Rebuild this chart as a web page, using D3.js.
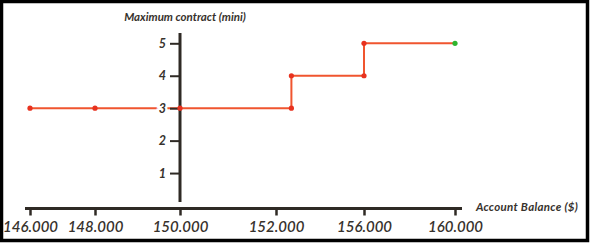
<!DOCTYPE html>
<html>
<head>
<meta charset="utf-8">
<script src="https://cdn.jsdelivr.net/npm/d3@7"></script>
<style>
  html, body { margin: 0; padding: 0; background: #fff; }
  svg { display: block; }
  text { font-family: Lato, "Open Sans", sans-serif; font-style: italic; fill: #37322d; }
</style>
</head>
<body>
<svg id="chart" width="590" height="243"></svg>
<script>
// account balance ($) and max contracts at each breakpoint
const balances = [146000, 148000, 150000, 152700, 156000, 160000];
const contracts = [3, 3, 3, 4, 5, 5];
const xTicks = [146000, 148000, 150000, 152000, 156000, 160000];
const yTicks = [1, 2, 3, 4, 5];

const svg = d3.select('#chart');
const ink = '#2f2a25';

// the x axis in the original is not evenly spaced, so map it piece by piece
const x = d3.scaleLinear()
    .domain(xTicks)
    .range([30, 95, 180, 276, 364, 455]);

const y = d3.scaleLinear()
    .domain([0, 5])
    .range([205.5, 43.3]);

const data = balances.map((b, i) => ({ x: b, y: contracts[i] }));

// frame
svg.append('rect')
    .attr('x', 1.5).attr('y', 1.5)
    .attr('width', 586).attr('height', 239)
    .attr('fill', 'none')
    .attr('stroke', '#000')
    .attr('stroke-width', 3.5);

// x axis
const xAxis = d3.axisBottom(x)
    .tickValues(xTicks)
    .tickSize(7)
    .tickSizeOuter(0)
    .tickPadding(6)
    .tickFormat(d => d3.format(',')(d).replace(',', '.'));

const gx = svg.append('g')
    .attr('transform', 'translate(0,208.5)')
    .call(xAxis);
gx.select('.domain').remove();
gx.insert('line', ':first-child')
    .attr('x1', 25).attr('x2', 462)
    .attr('stroke', ink).attr('stroke-width', 3);
gx.selectAll('.tick line').attr('stroke', ink).attr('stroke-width', 2.5);
gx.selectAll('.tick text')
    .style('font-size', '15px')
    .style('font-weight', 600)
    .attr('fill', '#37322d');

// step line
const line = d3.line()
    .x(d => x(d.x))
    .y(d => y(d.y))
    .curve(d3.curveStepAfter);

svg.append('path')
    .datum(data)
    .attr('d', line)
    .attr('fill', 'none')
    .attr('stroke', '#f0552f')
    .attr('stroke-width', 2);

// y axis (drawn over the line, labels knock it out)
const yAxis = d3.axisLeft(y)
    .tickValues(yTicks)
    .tickSize(10)
    .tickPadding(4)
    .tickFormat(d3.format('d'));

const gy = svg.append('g')
    .attr('transform', `translate(${x(150000)},0)`)
    .call(yAxis);
gy.select('.domain').remove();
gy.insert('line', ':first-child')
    .attr('y1', 33).attr('y2', 202)
    .attr('stroke', ink).attr('stroke-width', 3);
gy.selectAll('.tick line').attr('stroke', ink).attr('stroke-width', 2);
gy.selectAll('.tick text')
    .style('font-size', '12.5px')
    .style('font-weight', 700)
    .attr('fill', '#37322d')
    .attr('stroke', '#fff')
    .attr('stroke-width', 5)
    .attr('paint-order', 'stroke');

// axis titles
svg.append('text')
    .attr('x', 185).attr('y', 21)
    .attr('text-anchor', 'middle')
    .style('font-size', '11.5px')
    .style('font-weight', 700)
    .text('Maximum contract (mini)');

svg.append('text')
    .attr('x', 527).attr('y', 211)
    .attr('text-anchor', 'middle')
    .style('font-size', '11.5px')
    .style('font-weight', 700)
    .style('letter-spacing', '0.3px')
    .text('Account Balance ($)');

// dots on every point plus the lower corner of each step
const dots = [];
data.forEach((d, i) => {
    if (i > 0 && d.y !== data[i - 1].y) dots.push({ x: d.x, y: data[i - 1].y });
    dots.push(d);
});

svg.append('g')
    .selectAll('circle')
    .data(dots)
    .join('circle')
    .attr('cx', d => x(d.x))
    .attr('cy', d => y(d.y))
    .attr('r', 2.6)
    .attr('fill', (d, i) => i === dots.length - 1 ? '#2fb52f' : '#e8321f');
</script>
</body>
</html>
